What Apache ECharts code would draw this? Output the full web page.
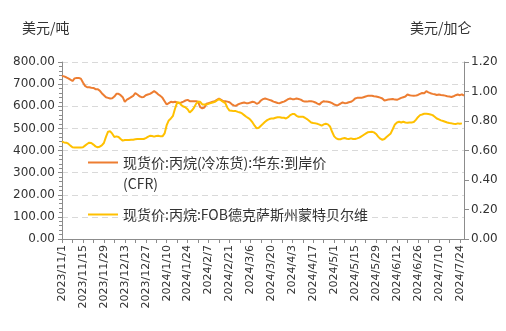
<!DOCTYPE html>
<html>
<head>
<meta charset="utf-8">
<script src="https://cdn.jsdelivr.net/npm/echarts@6/dist/echarts.min.js"></script>
<style>
  html, body { margin: 0; padding: 0; background: #fff; }
  #chart { width: 506px; height: 331px; }
</style>
</head>
<body>
<div id="chart"></div>
<script>
// Trading days (Mon–Fri) from 2023/11/1 to 2024/7/26
const startDay = Date.UTC(2023, 10, 1);
const endDay = Date.UTC(2024, 6, 26);
const dates = [];
for (let t = startDay; t <= endDay; t += 86400000) {
  const d = new Date(t);
  const wd = d.getUTCDay();
  if (wd === 0 || wd === 6) continue;
  dates.push(d.getUTCFullYear() + '/' + (d.getUTCMonth() + 1) + '/' + d.getUTCDate());
}

const seriesNames = [
  '现货价:丙烷(冷冻货):华东:到岸价(CFR)',
  '现货价:丙烷:FOB德克萨斯州蒙特贝尔维'
];

// 美元/吨
const cfrEastChina = [
  737, 735, 731, 726, 720, 714, 726, 728, 728, 725,
  707, 692, 686, 686, 684, 683, 677, 677, 671, 659,
  650, 641, 638, 635, 636, 644, 656, 656, 650, 641,
  620, 630, 635, 641, 647, 659, 653, 645, 641, 642,
  650, 653, 656, 662, 668, 662, 653, 647, 638, 623,
  608, 614, 620, 618, 620, 617, 614, 617, 621, 626,
  629, 623, 623, 623, 623, 620, 596, 591, 594, 611,
  614, 617, 620, 623, 629, 635, 629, 623, 623, 621,
  618, 610, 604, 602, 608, 612, 615, 617, 614, 614,
  617, 620, 618, 611, 615, 626, 632, 635, 632, 629,
  626, 621, 618, 615, 614, 618, 621, 626, 632, 635,
  632, 632, 635, 633, 630, 624, 621, 621, 623, 623,
  621, 617, 612, 608, 618, 623, 621, 620, 618, 614,
  608, 605, 606, 612, 617, 614, 615, 618, 620, 626,
  635, 638, 638, 638, 641, 644, 647, 647, 647, 645,
  644, 642, 639, 635, 626, 628, 631, 632, 633, 630,
  629, 633, 638, 641, 644, 653, 650, 648, 647, 648,
  651, 656, 660, 659, 668, 663, 659, 656, 654, 651,
  653, 651, 650, 648, 645, 644, 642, 645, 650, 653,
  650, 654, 648
];

// 美元/加仑
const fobMontBelvieu = [
  0.660, 0.655, 0.653, 0.646, 0.633, 0.622, 0.620, 0.620, 0.620, 0.620,
  0.622, 0.633, 0.644, 0.653, 0.651, 0.640, 0.628, 0.622, 0.626, 0.635,
  0.651, 0.692, 0.728, 0.730, 0.714, 0.692, 0.696, 0.692, 0.678, 0.667,
  0.671, 0.671, 0.671, 0.673, 0.673, 0.676, 0.678, 0.678, 0.678, 0.678,
  0.684, 0.692, 0.700, 0.698, 0.694, 0.698, 0.700, 0.696, 0.696, 0.716,
  0.772, 0.804, 0.817, 0.835, 0.885, 0.925, 0.925, 0.907, 0.898, 0.892,
  0.880, 0.858, 0.871, 0.889, 0.916, 0.930, 0.930, 0.912, 0.912, 0.912,
  0.916, 0.921, 0.925, 0.930, 0.939, 0.948, 0.939, 0.930, 0.921, 0.890,
  0.871, 0.869, 0.867, 0.867, 0.862, 0.858, 0.851, 0.840, 0.829, 0.820,
  0.808, 0.790, 0.768, 0.750, 0.754, 0.768, 0.781, 0.795, 0.806, 0.813,
  0.817, 0.817, 0.822, 0.826, 0.826, 0.822, 0.822, 0.817, 0.826, 0.840,
  0.847, 0.847, 0.835, 0.829, 0.829, 0.829, 0.822, 0.813, 0.802, 0.790,
  0.786, 0.784, 0.781, 0.775, 0.768, 0.777, 0.781, 0.777, 0.763, 0.727,
  0.696, 0.682, 0.676, 0.676, 0.682, 0.685, 0.680, 0.678, 0.682, 0.678,
  0.678, 0.682, 0.687, 0.696, 0.705, 0.714, 0.723, 0.725, 0.727, 0.723,
  0.712, 0.694, 0.680, 0.673, 0.678, 0.692, 0.704, 0.716, 0.746, 0.777,
  0.790, 0.795, 0.790, 0.795, 0.790, 0.788, 0.790, 0.790, 0.793, 0.808,
  0.826, 0.840, 0.844, 0.849, 0.849, 0.847, 0.844, 0.840, 0.829, 0.817,
  0.811, 0.804, 0.800, 0.795, 0.790, 0.786, 0.784, 0.781, 0.779, 0.784,
  0.781, 0.784, null
];

const leftTicks = { min: 0, max: 800, interval: 100 };
const rightTicks = { min: 0, max: 1.2, interval: 0.2 };

const textColor = '#333';
const axisColor = '#8c8c8c';
const cjkFont = '"Noto Sans CJK SC", sans-serif';
const numFont = '"DejaVu Sans", sans-serif';

const chart = echarts.init(document.getElementById('chart'), null, { renderer: 'canvas' });

chart.setOption({
  backgroundColor: '#fff',
  animation: false,
  title: [
    { text: '美元/吨', left: 22, top: 21, padding: 0,
      textStyle: { fontFamily: cjkFont, fontSize: 14, fontWeight: 'normal', color: textColor } },
    { text: '美元/加仑', left: 410, top: 21, padding: 0,
      textStyle: { fontFamily: cjkFont, fontSize: 14, fontWeight: 'normal', color: textColor } }
  ],
  grid: { left: 62, right: 42, top: 62, bottom: 92, containLabel: false },
  legend: {
    orient: 'vertical',
    left: 88,
    top: 131,
    padding: 0,
    itemGap: 10,
    itemWidth: 30,
    itemHeight: 2,
    icon: 'rect',
    itemStyle: { borderWidth: 0 },
    textStyle: { fontFamily: cjkFont, fontSize: 14, color: textColor, lineHeight: 21 },
    // the long name wraps before "(CFR)"; a blank lead line keeps the first row level with the icon
    formatter: function (name) {
      return name.indexOf('(CFR)') >= 0 ? '\n' + name.replace('(CFR)', '\n(CFR)') : name;
    },
    data: seriesNames
  },
  xAxis: {
    type: 'category',
    data: dates,
    boundaryGap: false,
    axisLine: { lineStyle: { color: axisColor, width: 1 } },
    axisTick: { show: true, interval: 4, length: 4, lineStyle: { color: axisColor } },
    axisLabel: {
      interval: 9,
      rotate: 90,
      fontFamily: numFont,
      fontSize: 11,
      color: textColor,
      margin: 6
    },
    splitLine: { show: false }
  },
  yAxis: [
    {
      type: 'value',
      min: leftTicks.min,
      max: leftTicks.max,
      interval: leftTicks.interval,
      axisLine: { show: true, lineStyle: { color: axisColor } },
      axisTick: { show: true, length: 4, lineStyle: { color: axisColor } },
      minorTick: { show: true, splitNumber: 5, length: 3, lineStyle: { color: axisColor } },
      axisLabel: {
        fontFamily: numFont, fontSize: 12, color: textColor, margin: 7,
        formatter: function (v) { return v.toFixed(2); }
      },
      splitLine: { show: true, lineStyle: { color: '#d9d9d9', type: [6, 4], width: 1 } }
    },
    {
      type: 'value',
      position: 'right',
      min: rightTicks.min,
      max: rightTicks.max,
      interval: rightTicks.interval,
      axisLine: { show: true, lineStyle: { color: axisColor } },
      axisTick: { show: true, length: 5, lineStyle: { color: axisColor } },
      axisLabel: {
        fontFamily: numFont, fontSize: 12, color: textColor, margin: 7,
        formatter: function (v) { return v.toFixed(2); }
      },
      splitLine: { show: false }
    }
  ],
  series: [
    {
      name: seriesNames[0],
      type: 'line',
      yAxisIndex: 0,
      data: cfrEastChina,
      symbol: 'none',
      lineStyle: { color: '#ED7D31', width: 2 },
      itemStyle: { color: '#ED7D31' }
    },
    {
      name: seriesNames[1],
      type: 'line',
      yAxisIndex: 1,
      data: fobMontBelvieu,
      symbol: 'none',
      connectNulls: false,
      lineStyle: { color: '#FFC000', width: 2 },
      itemStyle: { color: '#FFC000' }
    }
  ]
});
</script>
</body>
</html>
